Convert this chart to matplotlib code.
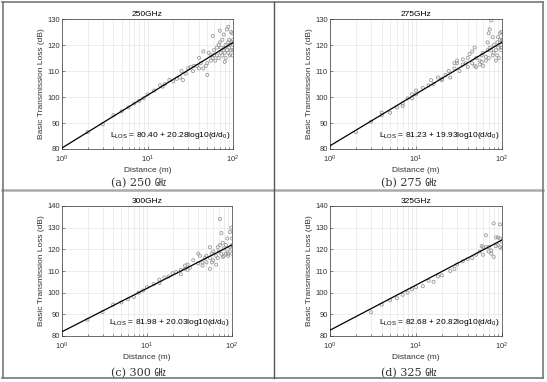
import matplotlib
matplotlib.use("Agg")
import matplotlib.pyplot as plt
from matplotlib.lines import Line2D
import numpy as np

plt.rcParams['font.family'] = ['Liberation Sans', 'DejaVu Sans']
plt.rcParams['mathtext.fontset'] = 'custom'
plt.rcParams['mathtext.rm'] = 'Liberation Sans'
plt.rcParams['mathtext.it'] = 'Liberation Sans'

# ---- data ----
titles = ['250GHz', '275GHz', '300GHz', '325GHz']
captions = ['(a) 250 ㎓', '(b) 275 ㎓', '(c) 300 ㎓', '(d) 325 ㎓']
intercepts = [80.40, 81.23, 81.98, 82.68]
slopes = [20.28, 19.93, 20.03, 20.82]
ylims = [(80, 130), (80, 130), (80, 140), (80, 140)]
fit_d = [1, 100]

d_250 = [2, 3, 4, 5, 6, 7, 8, 9, 10, 12, 14, 15, 16, 18, 20, 22, 24, 25, 26, 28, 30, 32, 34, 35, 38,
         40, 40, 42, 45, 45, 48, 50, 50, 52, 55, 55, 58, 58, 60, 60, 62, 65, 65, 68, 68, 70, 70,
         72, 72, 75, 75, 78, 78, 80, 80, 80, 82, 82, 85, 85, 88, 88, 88, 90, 90, 92, 92, 95, 95,
         98, 98, 98, 100, 100, 100]
l_250 = [86.5, 89.5, 93, 94.5, 96, 97.5, 98.5, 99.5, 101, 102.5, 104.5, 104, 105, 106.5, 106, 107,
         107.5, 110, 106.5, 109, 111, 111.5, 110, 112, 112, 115, 111, 113, 111, 117.5, 112, 108.5,
         113, 117, 114, 116, 123.5, 115, 116, 118, 114, 119, 116, 120, 115, 125.5, 121, 117, 119,
         116, 122, 124, 118, 113.5, 119, 117, 120, 115, 126, 118, 127, 121, 117, 122, 119, 120,
         116, 125, 118, 124.5, 121, 116, 120, 118, 122]

d_275 = [2, 3, 4, 4, 5, 6, 7, 7, 8, 9, 9, 10, 10, 12, 14, 15, 16, 18, 20, 20, 22, 24, 25, 28, 28,
         30, 30, 32, 35, 35, 38, 40, 40, 42, 45, 45, 48, 48, 50, 50, 55, 55, 58, 58, 60, 60, 65,
         65, 68, 68, 70, 70, 72, 72, 75, 75, 78, 78, 80, 80, 85, 85, 88, 88, 90, 90, 92, 95, 95,
         98, 98, 98, 100, 100]
l_275 = [86.5, 90.5, 93, 94, 94, 96, 97.5, 96.5, 99.5, 99.5, 101, 102.5, 101, 103.5, 104.5, 106.5,
         105, 107.5, 106.5, 107, 108.5, 110, 107.5, 111, 113, 113, 114, 110, 112.5, 114.5, 113,
         115, 111.5, 116.5, 117.5, 113, 119, 112, 115, 111.5, 114, 112.5, 116, 113.5, 117, 112,
         115.5, 114, 121, 118, 124.5, 115, 126, 119, 129.5, 118, 123, 116, 120, 117, 118, 114,
         121, 116, 123, 119, 115, 124.5, 122, 125, 120, 118, 122, 119]

d_300 = [2, 3, 4, 5, 6, 7, 8, 9, 10, 12, 14, 14, 16, 18, 20, 22, 25, 25, 28, 28, 30, 30, 32, 35,
         40, 40, 42, 45, 45, 48, 50, 50, 55, 55, 55, 58, 58, 60, 60, 65, 65, 68, 68, 70, 72, 72,
         75, 75, 78, 78, 80, 80, 85, 85, 88, 88, 90, 90, 95, 95, 98, 98, 100, 100, 100]
l_300 = [87.5, 91, 94.5, 95.5, 97, 98, 100, 101, 102.5, 104, 104.5, 106, 107, 107.5, 109, 109.5,
         108.5, 110.5, 111, 112.5, 113, 110.5, 111.5, 115, 118, 113.5, 117, 114, 112.5, 116, 114,
         117, 111, 121, 116, 118, 114, 115, 119, 113, 117, 121, 116, 119, 134, 122, 127.5, 118,
         123, 116.5, 120.5, 117, 122, 118, 125, 119, 118, 117, 128, 121, 130, 120, 125, 118, 122]

d_325 = [3, 4, 5, 6, 7, 8, 9, 10, 12, 14, 16, 18, 20, 25, 28, 30, 35, 40, 45, 50, 55, 58, 60, 60,
         65, 65, 70, 70, 75, 75, 80, 80, 85, 85, 90, 90, 95, 95, 95, 100, 100]
l_325 = [91, 94.5, 96.5, 97.5, 99, 100, 101.5, 102.5, 103, 105.5, 105, 107.5, 108, 110, 111, 113,
         114.5, 115.5, 116, 117.5, 119, 121.5, 117.5, 121, 126.5, 121, 119, 121, 119.5, 118, 132,
         116.5, 125.5, 121.5, 122, 125.5, 131.5, 125, 121, 123.5, 120.5]

dists = [d_250, d_275, d_300, d_325]
losses = [l_250, l_275, l_300, l_325]

W, H = 547, 382
fig = plt.figure(figsize=(W / 100, H / 100), dpi=100)

# axes boxes in pixels: left, top, right, bottom
boxes = [(62, 19, 233, 149), (330, 19, 502, 149), (62, 206, 232, 336), (330, 206, 502, 336)]
cells_x = [(2, 274), (274, 543), (2, 274), (274, 543)]
caption_y = [183, 183, 373, 373]

for k in range(4):
    l, t, r, b = boxes[k]
    ax = fig.add_axes([l / W, 1 - b / H, (r - l) / W, (b - t) / H])
    ax.scatter(dists[k], losses[k], s=5, facecolors='none', edgecolors='#999999',
               linewidths=0.6, zorder=2)
    fit_l = [intercepts[k] + slopes[k] * np.log10(x) for x in fit_d]
    ax.plot(fit_d, fit_l, color='black', lw=0.9, zorder=3)
    ax.set_xscale('log')
    ax.set_xlim(1, 100)
    ax.set_ylim(*ylims[k])
    ax.set_yticks(np.arange(ylims[k][0], ylims[k][1] + 1, 10))
    ax.grid(True, which='both', color='#e6e6e6', lw=0.5)
    ax.set_axisbelow(True)
    ax.tick_params(which='both', direction='in', labelsize=5.5, colors='#333333', length=2,
                   width=0.4)
    ax.tick_params(axis='x', pad=3.5)
    ax.tick_params(axis='y', pad=1.5)
    ax.tick_params(which='minor', length=1.2)
    for s in ax.spines.values():
        s.set_color('#333333')
        s.set_linewidth(0.5)
    ax.set_title(titles[k], fontsize=6, pad=2)
    ax.set_xlabel('Distance (m)', fontsize=6, labelpad=1, color='#333333')
    ax.set_ylabel('Basic Transmission Loss (dB)', fontsize=6, labelpad=2, color='#333333')
    ax.text(0.985, 0.06,
            r'$\mathregular{L_{LOS}}$ = %.2f + %.2flog10(d/d$\mathregular{_0}$)' % (intercepts[k], slopes[k]),
            transform=ax.transAxes, ha='right', va='bottom', fontsize=6)
    cx = (cells_x[k][0] + cells_x[k][1]) / 2
    fig.text(cx / W, 1 - caption_y[k] / H, captions[k], ha='center', va='center', fontsize=8,
             family=['DejaVu Serif', 'Noto Sans CJK KR'], color='#333333')

# outer frame and cell dividers
def hline(y, x0, x1, color, lw):
    fig.add_artist(Line2D([x0 / W, x1 / W], [1 - y / H, 1 - y / H], color=color, lw=lw))

def vline(x, y0, y1, color, lw):
    fig.add_artist(Line2D([x / W, x / W], [1 - y0 / H, 1 - y1 / H], color=color, lw=lw))

hline(1.5, 2, 543, '#777777', 1.2)
hline(378, 2, 543, '#777777', 1.2)
hline(190.5, 2, 543, '#aaaaaa', 1.8)
vline(2.5, 1.5, 378, '#777777', 1.2)
vline(543, 1.5, 378, '#777777', 1.2)
vline(274, 1.5, 378, '#555555', 1.0)

fig.savefig('out.png', dpi=100)
